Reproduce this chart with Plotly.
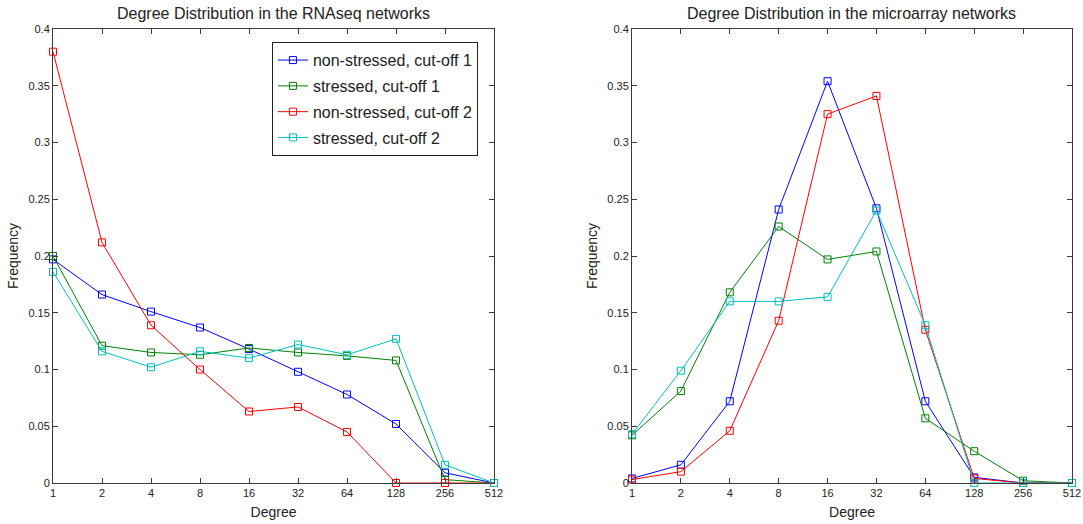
import plotly.graph_objects as go
from plotly.subplots import make_subplots

# Degree bins (log2 spaced)
degrees = [1, 2, 4, 8, 16, 32, 64, 128, 256, 512]
degree_labels = ["1", "2", "4", "8", "16", "32", "64", "128", "256", "512"]

# RNAseq networks
rna_nonstressed_c1 = [0.197, 0.166, 0.151, 0.137, 0.118, 0.098, 0.078, 0.052, 0.009, 0.0]
rna_stressed_c1 = [0.200, 0.121, 0.115, 0.113, 0.119, 0.115, 0.112, 0.108, 0.003, 0.0]
rna_nonstressed_c2 = [0.380, 0.212, 0.139, 0.100, 0.063, 0.067, 0.045, 0.0, 0.0, 0.0]
rna_stressed_c2 = [0.186, 0.116, 0.102, 0.116, 0.110, 0.122, 0.113, 0.127, 0.016, 0.0]

# Microarray networks
ma_nonstressed_c1 = [0.004, 0.016, 0.072, 0.241, 0.354, 0.242, 0.072, 0.005, 0.0, 0.0]
ma_stressed_c1 = [0.042, 0.081, 0.168, 0.226, 0.197, 0.204, 0.057, 0.028, 0.002, 0.0]
ma_nonstressed_c2 = [0.003, 0.010, 0.046, 0.143, 0.325, 0.341, 0.135, 0.004, 0.0, 0.0]
ma_stressed_c2 = [0.043, 0.099, 0.160, 0.160, 0.164, 0.240, 0.139, 0.0, 0.0, 0.0]

series_names = ["non-stressed, cut-off 1", "stressed, cut-off 1",
                "non-stressed, cut-off 2", "stressed, cut-off 2"]
series_colors = ["#0000ff", "#008000", "#ff0000", "#00bfbf"]

y_ticks = [0, 0.05, 0.1, 0.15, 0.2, 0.25, 0.3, 0.35, 0.4]
y_tick_labels = ["0", "0.05", "0.1", "0.15", "0.2", "0.25", "0.3", "0.35", "0.4"]

titles = ["Degree Distribution in the RNAseq networks",
          "Degree Distribution in the microarray networks"]

FONT = "Liberation Sans, Arial, Helvetica, sans-serif"
AXIS_COLOR = "#3c3c3c"
TEXT_COLOR = "#222"

fig = make_subplots(rows=1, cols=2, horizontal_spacing=0.1354)
fig.update_xaxes(domain=[0.0, 0.4328], row=1, col=1)
fig.update_xaxes(domain=[0.5682, 1.0], row=1, col=2)

panels = [
    [rna_nonstressed_c1, rna_stressed_c1, rna_nonstressed_c2, rna_stressed_c2],
    [ma_nonstressed_c1, ma_stressed_c1, ma_nonstressed_c2, ma_stressed_c2],
]

for col, panel in enumerate(panels, start=1):
    for i, values in enumerate(panel):
        fig.add_trace(
            go.Scatter(
                x=degrees, y=values, mode="lines+markers",
                name=series_names[i],
                legendgroup=series_names[i],
                showlegend=(col == 1),
                line=dict(color=series_colors[i], width=1),
                marker=dict(symbol="square-open", size=7,
                            color=series_colors[i], line=dict(width=1)),
                cliponaxis=False,
            ),
            row=1, col=col,
        )

fig.update_xaxes(
    type="log", range=[0, 2.70927], tickvals=degrees, ticktext=degree_labels,
    ticks="inside", ticklen=5, tickcolor=AXIS_COLOR, mirror="ticks",
    showline=True, linecolor=AXIS_COLOR, linewidth=1, showgrid=False,
    zeroline=False, tickfont=dict(size=11, color=TEXT_COLOR), automargin=False,
    title=dict(text="Degree", font=dict(size=14, color=TEXT_COLOR), standoff=8),
)
fig.update_yaxes(
    range=[0, 0.4], tickvals=y_ticks, ticktext=y_tick_labels,
    ticks="inside", ticklen=5, tickcolor=AXIS_COLOR, mirror="ticks",
    showline=True, linecolor=AXIS_COLOR, linewidth=1, showgrid=False,
    zeroline=False, tickfont=dict(size=11, color=TEXT_COLOR), automargin=False,
    title=dict(text="Frequency", font=dict(size=14, color=TEXT_COLOR), standoff=6),
)

for col, title in enumerate(titles):
    x_center = [0.2164, 0.7841][col]
    fig.add_annotation(
        text=title, x=x_center, y=1.0, xref="paper", yref="paper",
        xanchor="center", yanchor="bottom", yshift=5, showarrow=False,
        font=dict(size=16, color=TEXT_COLOR),
    )

fig.update_layout(
    width=1083, height=524,
    margin=dict(l=53, r=11, t=29, b=41),
    paper_bgcolor="white", plot_bgcolor="white",
    font=dict(family=FONT, color=TEXT_COLOR),
    legend=dict(
        x=0.417, y=0.971, xanchor="right", yanchor="top",
        bgcolor="white", bordercolor=TEXT_COLOR, borderwidth=1,
        font=dict(size=16, color=TEXT_COLOR),
        traceorder="grouped", tracegroupgap=2,
    ),
)

fig.write_html("out.html")
